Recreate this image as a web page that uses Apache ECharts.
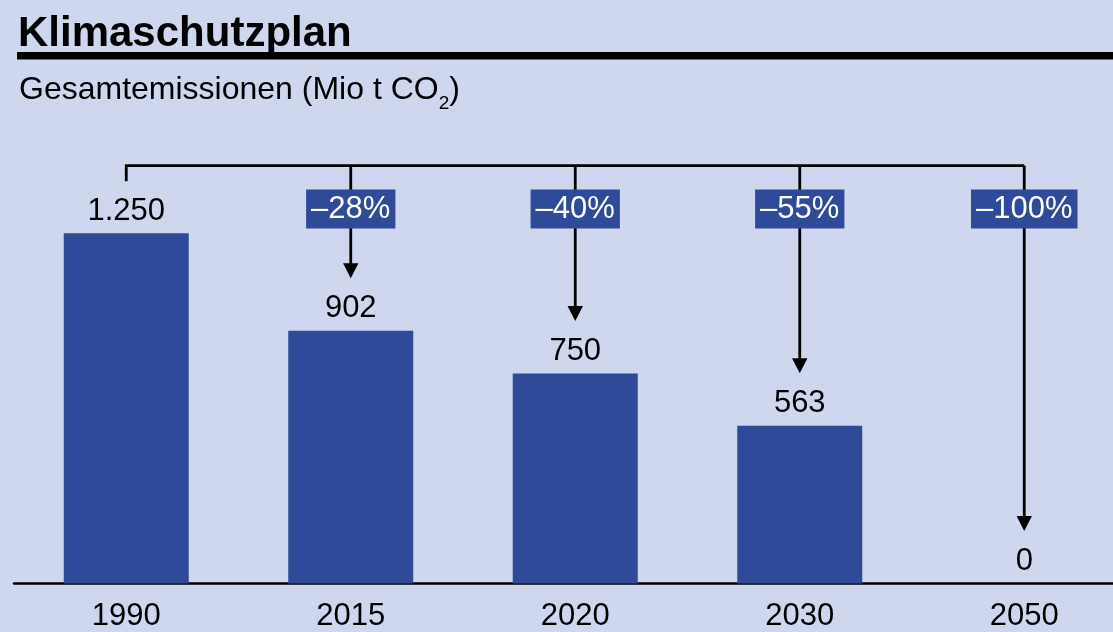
<!DOCTYPE html>
<html>
<head>
<meta charset="utf-8">
<script src="https://cdn.jsdelivr.net/npm/echarts@6/dist/echarts.min.js"></script>
<style>
  html, body { margin: 0; padding: 0; background: #cfd7ef; }
  #chart { width: 1113px; height: 632px; }
</style>
</head>
<body>
<div id="chart"></div>
<script>
const years = ['1990', '2015', '2020', '2030', '2050']
const emissions = [1250, 902, 750, 563, 0]
const reductions = ['', '–28%', '–40%', '–55%', '–100%']

const font = '"Liberation Sans", Arial, sans-serif'
const blue = '#2f4a99'

const formatDe = (v) => String(v).replace(/\B(?=(\d{3})+(?!\d))/g, '.')

const myChart = echarts.init(document.getElementById('chart'))

myChart.setOption({
  backgroundColor: '#cfd7ef',
  animation: false,
  title: [
    {
      text: 'Klimaschutzplan',
      left: 13,
      top: 8,
      textStyle: { fontFamily: font, fontSize: 42, fontWeight: 'bold', color: '#000' },
    },
    {
      text: '{t|Gesamtemissionen (Mio t CO}{s|2}{t|)}',
      left: 14,
      top: 62,
      textStyle: {
        fontWeight: 'normal',
        rich: {
          t: { fontFamily: font, fontSize: 32, fontWeight: 'normal', color: '#000', lineHeight: 46 },
          s: { fontFamily: font, fontSize: 19, fontWeight: 'normal', color: '#000', lineHeight: 19, verticalAlign: 'bottom' },
        },
      },
    },
  ],
  graphic: [
    { type: 'rect', shape: { x: 17, y: 52, width: 1100, height: 7.5 }, style: { fill: '#000' } },
  ],
  grid: { left: 14, width: 1122.5, top: 233.3, bottom: 48.5, outerBoundsMode: 'none', containLabel: false },
  xAxis: {
    type: 'category',
    data: years,
    axisTick: { show: false },
    axisLine: { lineStyle: { color: '#000', width: 2.5 } },
    axisLabel: { fontFamily: font, fontSize: 31, color: '#000', margin: 17.5 },
  },
  yAxis: {
    type: 'value',
    min: 0,
    max: 1250,
    show: false,
    splitLine: { show: false },
  },
  series: [
    {
      type: 'bar',
      data: emissions,
      barWidth: 125,
      itemStyle: { color: blue },
      label: {
        show: true,
        position: 'top',
        distance: 6.5,
        fontFamily: font,
        fontSize: 31,
        color: '#000',
        formatter: (p) => formatDe(p.value),
      },
    },
    {
      type: 'custom',
      clip: false,
      data: emissions.map((v, i) => [i, v]),
      encode: { x: 0, y: 1 },
      renderItem(params, api) {
        const i = params.dataIndex
        const top = api.coord([i, api.value(1)])
        const peak = api.coord([0, emissions[0]])
        const bracketY = peak[1] - 67.6
        if (i === 0) {
          const last = api.coord([years.length - 1, 0])
          return {
            type: 'polyline',
            shape: { points: [[top[0], bracketY + 15.5], [top[0], bracketY], [last[0], bracketY]] },
            style: { stroke: '#000', lineWidth: 2.8, fill: 'none' },
          }
        }
        const tipY = top[1] - 52.5
        return {
          type: 'group',
          children: [
            {
              type: 'line',
              shape: { x1: top[0], y1: bracketY, x2: top[0], y2: tipY - 12 },
              style: { stroke: '#000', lineWidth: 2.8 },
            },
            {
              type: 'polygon',
              shape: { points: [[top[0] - 7.7, tipY - 15], [top[0] + 7.7, tipY - 15], [top[0], tipY]] },
              style: { fill: '#000' },
            },
            {
              type: 'text',
              style: {
                text: reductions[i],
                x: top[0],
                y: peak[1] - 24.3,
                align: 'center',
                verticalAlign: 'middle',
                font: '31px ' + font,
                fill: '#fff',
                backgroundColor: blue,
                padding: [4, 5, 4, 5],
              },
            },
          ],
        }
      },
    },
  ],
})
</script>
</body>
</html>
